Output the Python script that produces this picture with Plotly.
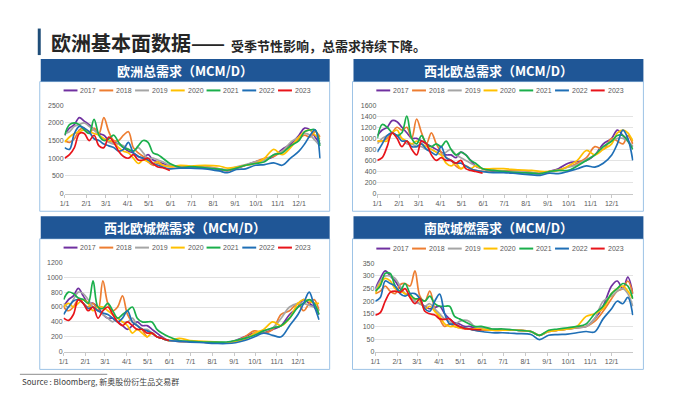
import plotly.graph_objects as go

# ---------------- data ----------------
DAYS = [0, 7, 14, 21, 28, 35, 42, 49, 56, 63, 70, 77, 84, 91, 98, 105, 112, 119, 126, 133,
        140, 150, 165, 180, 200, 220, 232, 245, 258, 272, 285, 298, 310, 322, 334, 342, 350, 357, 364]
YEARS = ["2017", "2018", "2019", "2020", "2021", "2022", "2023"]
MONTH_TICKS = [0, 31, 59, 90, 120, 151, 181, 212, 243, 273, 304, 334]
MONTH_LABELS = ["1/1", "2/1", "3/1", "4/1", "5/1", "6/1", "7/1", "8/1", "9/1", "10/1", "11/1", "12/1"]

eu_total = {
    "2017": [1650, 1850, 1950, 2150, 2050, 1950, 1800, 1700, 1650, 1500, 1450, 1400, 1300, 1200, 1150, 1050, 1000, 1100, 950, 900,
             850, 800, 750, 730, 740, 680, 650, 720, 800, 900, 950, 1050, 1250, 1400, 1650, 1850, 1800, 1600, 1400],
    "2018": [1500, 1450, 1550, 1800, 1850, 1700, 1850, 1700, 2150, 1750, 1500, 1500, 1650, 1750, 1300, 1150, 1050, 900, 800, 850,
             800, 760, 760, 740, 760, 700, 650, 720, 800, 900, 1000, 1050, 1200, 1350, 1550, 1650, 1600, 1750, 1600],
    "2019": [1700, 1750, 1900, 1950, 2000, 1900, 1800, 1650, 1550, 1450, 1400, 1400, 1350, 1250, 1200, 1300, 1150, 1000, 1000, 950,
             900, 800, 750, 720, 750, 700, 680, 760, 820, 900, 950, 1100, 1200, 1450, 1600, 1700, 1650, 1500, 1350],
    "2020": [1450, 1600, 1700, 1750, 1800, 1750, 1700, 1650, 1550, 1500, 1450, 1300, 1200, 1150, 1000, 850, 950, 900, 850, 900,
             800, 760, 800, 780, 800, 780, 720, 750, 800, 850, 1000, 1250, 1100, 1300, 1600, 1750, 1800, 1650, 1550],
    "2021": [1650, 1950, 2000, 1950, 1800, 1700, 2100, 1650, 1500, 1550, 1650, 1450, 1300, 1250, 1200, 1350, 1500, 1450, 1150, 1100,
             1000, 850, 740, 760, 730, 690, 660, 720, 800, 850, 900, 1100, 1150, 1350, 1500, 1750, 1800, 1800, 1350],
    "2022": [1300, 1250, 1700, 1900, 1850, 1750, 1550, 1500, 1400, 1350, 1300, 1200, 1250, 1450, 1150, 1050, 1000, 950, 850, 800,
             750, 700, 720, 720, 700, 640, 590, 680, 700, 800, 820, 870, 800, 1000, 1200, 1400, 1650, 1800, 1000],
    "2023": [1000, 1100, 1300, 1700, 1700, 1500, 1650, 1350, 1300, 1600, 1450, 1200, 1050, 1000, 1100, 950, 950, 1000, 850, 750,
             730, 650],
}

nwe_total = {
    "2017": [1050, 1150, 1200, 1320, 1300, 1200, 1100, 1000, 1000, 950, 900, 850, 800, 750, 700, 700, 650, 750, 700, 600,
             500, 450, 400, 400, 400, 370, 360, 400, 450, 550, 580, 600, 700, 900, 1000, 1150, 1050, 950, 850],
    "2018": [950, 950, 1000, 1100, 1200, 1150, 1200, 1000, 1350, 1100, 900, 1100, 900, 750, 650, 600, 500, 450, 500, 450,
             420, 400, 420, 410, 420, 380, 370, 400, 430, 480, 550, 650, 850, 800, 1000, 950, 900, 1050, 900],
    "2019": [900, 1000, 1050, 1100, 1050, 1000, 900, 900, 850, 850, 800, 800, 750, 700, 750, 800, 700, 650, 600, 550,
             500, 450, 420, 400, 400, 380, 360, 400, 430, 480, 520, 620, 700, 850, 950, 1000, 1000, 950, 850],
    "2020": [950, 950, 950, 1100, 1150, 1000, 950, 900, 950, 900, 850, 800, 750, 700, 550, 500, 550, 450, 500, 450,
             500, 450, 450, 450, 430, 420, 400, 400, 420, 500, 600, 780, 700, 800, 900, 1100, 1150, 1100, 950],
    "2021": [1000, 1250, 1200, 1100, 1050, 1100, 1400, 1000, 900, 1050, 900, 850, 900, 850, 950, 800, 700, 750, 700, 600,
             550, 450, 420, 400, 380, 370, 360, 400, 420, 420, 500, 600, 700, 850, 950, 1050, 1050, 950, 800],
    "2022": [750, 900, 1050, 1100, 1050, 950, 950, 850, 850, 900, 800, 750, 700, 850, 650, 600, 550, 550, 500, 450,
             420, 400, 380, 380, 360, 340, 330, 370, 360, 400, 450, 500, 480, 550, 700, 900, 1150, 1000, 600],
    "2023": [600, 650, 850, 1100, 1000, 850, 950, 800, 700, 950, 900, 700, 600, 650, 600, 600, 550, 600, 450, 420,
             400, 370],
}

nwe_res = {
    "2017": [600, 700, 750, 850, 750, 650, 650, 600, 500, 450, 450, 400, 350, 300, 350, 400, 350, 350, 300, 250,
             200, 150, 140, 130, 130, 120, 120, 150, 200, 250, 250, 300, 350, 500, 600, 700, 650, 600, 500],
    "2018": [600, 550, 600, 700, 650, 600, 650, 550, 950, 650, 550, 600, 750, 500, 400, 350, 300, 200, 250, 200,
             180, 150, 140, 130, 130, 120, 120, 140, 200, 280, 250, 300, 500, 550, 650, 550, 650, 700, 550],
    "2019": [650, 600, 700, 800, 780, 700, 600, 550, 500, 450, 400, 450, 400, 400, 450, 350, 300, 300, 250, 200,
             180, 150, 140, 130, 130, 120, 120, 150, 180, 230, 280, 320, 450, 600, 650, 650, 620, 600, 550],
    "2020": [600, 650, 600, 650, 700, 650, 550, 600, 600, 550, 500, 450, 400, 350, 250, 300, 250, 200, 250, 200,
             180, 150, 180, 150, 140, 130, 120, 140, 160, 250, 300, 400, 350, 450, 650, 700, 680, 650, 650],
    "2021": [700, 800, 780, 720, 700, 650, 950, 600, 580, 650, 550, 450, 500, 550, 600, 450, 400, 400, 400, 300,
             250, 200, 150, 140, 130, 130, 130, 150, 180, 220, 280, 320, 350, 450, 600, 650, 700, 650, 500],
    "2022": [500, 600, 680, 700, 650, 580, 600, 550, 520, 500, 450, 400, 450, 550, 400, 350, 300, 280, 250, 200,
             180, 150, 140, 130, 120, 110, 110, 120, 150, 200, 250, 220, 200, 350, 500, 650, 800, 620, 430],
    "2023": [450, 420, 500, 700, 650, 550, 600, 450, 550, 600, 500, 400, 350, 400, 350, 300, 300, 250, 250, 200,
             180, 150],
}

se_res = {
    "2017": [250, 290, 320, 300, 280, 250, 230, 220, 200, 190, 180, 170, 175, 180, 150, 130, 115, 110, 100, 100,
             95, 90, 85, 85, 85, 80, 65, 80, 85, 90, 95, 100, 130, 180, 260, 280, 250, 295, 230],
    "2018": [230, 240, 260, 240, 230, 265, 270, 260, 320, 220, 200, 240, 170, 130, 100, 110, 100, 95, 90, 90,
             85, 85, 85, 85, 85, 80, 65, 80, 85, 90, 95, 100, 120, 160, 210, 240, 250, 280, 230],
    "2019": [240, 280, 300, 300, 290, 260, 230, 220, 200, 190, 180, 190, 170, 150, 130, 120, 110, 120, 125, 120,
             100, 95, 90, 90, 85, 80, 65, 80, 85, 90, 95, 100, 130, 200, 220, 240, 250, 230, 180],
    "2020": [230, 270, 290, 280, 250, 240, 230, 220, 210, 200, 170, 180, 160, 140, 110, 100, 100, 95, 95, 90,
             90, 90, 85, 85, 85, 80, 65, 80, 85, 90, 100, 140, 150, 170, 230, 250, 260, 240, 210],
    "2021": [240, 260, 310, 310, 260, 240, 270, 230, 210, 210, 200, 220, 190, 180, 180, 180, 140, 130, 120, 110,
             100, 100, 90, 90, 85, 80, 65, 85, 90, 95, 100, 110, 150, 180, 230, 250, 270, 260, 210],
    "2022": [200, 215, 280, 270, 260, 230, 220, 230, 230, 210, 170, 160, 200, 228, 150, 110, 110, 100, 95, 90,
             85, 80, 75, 75, 72, 68, 48, 65, 68, 70, 75, 80, 78, 130, 170, 200, 190, 215, 145],
    "2023": [145, 155, 200, 235, 240, 235, 250, 215, 190, 210, 160, 150, 145, 130, 128, 130, 110, 100, 92, 90,
             88, 87],
}

COLORS = {"2017": "#7030A0", "2018": "#ED7D31", "2019": "#A5A5A5", "2020": "#FFC000",
          "2021": "#1AAF4B", "2022": "#1F6FB6", "2023": "#E8141A"}

PANELS = [
    ("欧洲总需求（MCM/D）", eu_total, 2500, 500),
    ("西北欧总需求（MCM/D）", nwe_total, 1600, 200),
    ("西北欧城燃需求（MCM/D）", nwe_res, 1200, 200),
    ("南欧城燃需求（MCM/D）", se_res, 350, 50),
]

# ---------------- layout geometry (pixels) ----------------
W, H = 700, 394


def px(x):
    return x / W


def py(y):
    return 1 - y / H


# plot area [x0, x1, ytop, ybottom]
PLOT = [(60, 318, 103, 193), (375, 633, 103, 193), (59, 317, 263, 354), (373, 633, 264, 354)]
# header bar [x0, x1, y0, y1]
HEAD = [(36, 327, 56, 79), (351, 643, 56, 79), (36, 327, 216, 239), (351, 643, 216, 239)]
# box [x0, x1, y0, y1]
BOX = [(35, 327, 79, 211), (350, 643, 79, 211), (35, 327, 239, 372), (350, 643, 239, 372)]
LEG_Y = [88, 88, 248, 249]
LEG_X0 = [59, 374, 59, 374]

fig = go.Figure()
shapes = []
annotations = []
layout_axes = {}

for i, (title, data, ymax, dtick) in enumerate(PANELS):
    n = "" if i == 0 else str(i + 1)
    xa, ya = "x" + n, "y" + n
    for yr in YEARS:
        vals = data[yr]
        fig.add_trace(go.Scatter(
            x=DAYS[:len(vals)], y=vals, mode="lines", name=yr,
            line=dict(color=COLORS[yr], width=1.7, shape="spline", smoothing=1),
            xaxis=xa, yaxis=ya, showlegend=False,
        ))
    x0, x1, yt, yb = PLOT[i]
    layout_axes["xaxis" + n] = dict(
        domain=[px(x0), px(x1)], range=[0, 365], anchor=ya,
        tickmode="array", tickvals=MONTH_TICKS, ticktext=MONTH_LABELS,
        showgrid=False, zeroline=False, showline=True, linecolor="#C8C8C8", linewidth=1,
        ticks="outside", ticklen=3, tickcolor="#C8C8C8",
        tickfont=dict(size=7, color="#595959", family="Liberation Sans"),
        fixedrange=True,
    )
    layout_axes["yaxis" + n] = dict(
        domain=[py(yb), py(yt)], range=[0, ymax], anchor=xa, dtick=dtick,
        showgrid=True, gridcolor="#E3E3E3", gridwidth=1, zeroline=False, showline=False,
        tickfont=dict(size=7, color="#595959", family="Liberation Sans"),
        ticks="", fixedrange=True,
    )
    # panel box
    bx0, bx1, by0, by1 = BOX[i]
    shapes.append(dict(type="rect", xref="paper", yref="paper", x0=px(bx0), x1=px(bx1),
                       y0=py(by1), y1=py(by0), line=dict(color="#9DC3E6", width=1),
                       fillcolor="rgba(0,0,0,0)", layer="below"))
    # header
    hx0, hx1, hy0, hy1 = HEAD[i]
    shapes.append(dict(type="rect", xref="paper", yref="paper", x0=px(hx0), x1=px(hx1),
                       y0=py(hy1), y1=py(hy0), line=dict(width=0), fillcolor="#1F5696"))
    annotations.append(dict(text="<b>" + title + "</b>", xref="paper", yref="paper", x=px((hx0 + hx1) / 2),
                            y=py((hy0 + hy1) / 2), xanchor="center", yanchor="middle", showarrow=False,
                            font=dict(size=13, color="white", family="Noto Sans CJK SC")))
    # legend
    for k, yr in enumerate(YEARS):
        lx = LEG_X0[i] + 36 * k
        ly = LEG_Y[i]
        shapes.append(dict(type="line", xref="paper", yref="paper", x0=px(lx), x1=px(lx + 14),
                           y0=py(ly), y1=py(ly), line=dict(color=COLORS[yr], width=2)))
        annotations.append(dict(text=yr, xref="paper", yref="paper", x=px(lx + 15), y=py(ly),
                                xanchor="left", yanchor="middle", showarrow=False,
                                font=dict(size=7, color="#595959", family="Liberation Sans")))

# page title
shapes.append(dict(type="rect", xref="paper", yref="paper", x0=px(33), x1=px(36),
                   y0=py(52), y1=py(25), line=dict(width=0), fillcolor="#1F4E79"))
annotations.append(dict(
    text="<b><span style='font-size:20px'>欧洲基本面数据——</span>"
         "<span style='font-size:13px'>\u00a0\u00a0受季节性影响，总需求持续下降。</span></b>",
    xref="paper", yref="paper", x=px(44), y=py(39), xanchor="left", yanchor="middle",
    showarrow=False, font=dict(size=20, color="#262626", family="Noto Sans CJK SC")))

# source
shapes.append(dict(type="line", xref="paper", yref="paper", x0=px(15), x1=px(103),
                   y0=py(377), y1=py(377), line=dict(color="#8C8C8C", width=1)))
annotations.append(dict(text="Source : Bloomberg, 新奥股份衍生品交易群", xref="paper", yref="paper",
                        x=px(15), y=py(384), xanchor="left", yanchor="middle", showarrow=False,
                        font=dict(size=8, color="#404040", family="Noto Sans CJK SC")))

fig.update_layout(
    width=W, height=H, autosize=False,
    margin=dict(l=0, r=0, t=0, b=0),
    paper_bgcolor="white", plot_bgcolor="white",
    shapes=shapes, annotations=annotations, showlegend=False,
    **layout_axes,
)

fig.write_html("out.html", config={"displayModeBar": False},
               post_script="document.body.style.margin='0';document.body.style.overflow='hidden';")
